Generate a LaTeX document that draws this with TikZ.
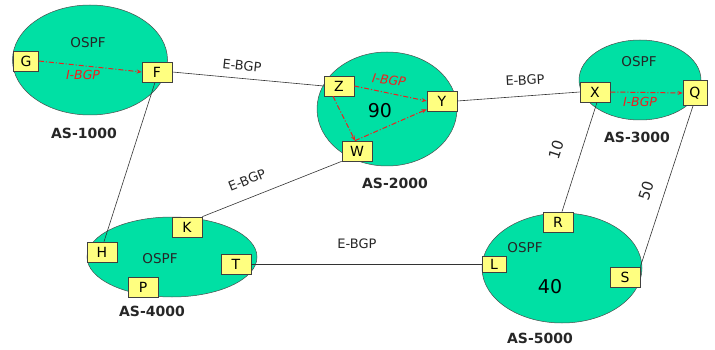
\documentclass[tikz,border=0pt]{standalone}
\usepackage{fontspec}
\setmainfont{DejaVu Sans}
\usetikzlibrary{shapes.geometric,arrows.meta}
\definecolor{asgreen}{RGB}{0,224,164}
\definecolor{boxyellow}{RGB}{255,255,128}
\definecolor{ibgpred}{RGB}{240,30,30}
\tikzset{
  asarea/.style={ellipse,draw=black!70,fill=asgreen,line width=0.5pt,inner sep=0pt},
  router/.style={draw=black!75,fill=boxyellow,line width=0.7pt,minimum width=30pt,minimum height=20pt,inner sep=0pt,font=\fontsize{14}{14}\selectfont},
  link/.style={draw=black!80,line width=0.6pt},
  ibgp/.style={draw=ibgpred,line width=1pt,dash pattern=on 5pt off 2pt on 1pt off 2pt},
  tip/.style={-{Stealth[length=5pt,width=4pt]}},
  ospf/.style={font=\fontsize{13.5}{13.5}\selectfont,text=black!85},
  aslabel/.style={font=\bfseries\fontsize{14}{14}\selectfont,text=black!85},
  ebgp/.style={font=\fontsize{13}{13}\selectfont,text=black!85},
  ibgplabel/.style={font=\itshape\fontsize{12.5}{12.5}\selectfont,text=ibgpred},
  metric/.style={font=\fontsize{19}{19}\selectfont},
  cost/.style={font=\fontsize{15}{15}\selectfont,text=black!85}
}
\begin{document}
\begin{tikzpicture}[x=1pt,y=-1pt]
\useasboundingbox (0,0) rectangle (715,350);
% AS areas
\node[asarea,minimum width=155pt,minimum height=110pt] (as1) at (90,60) {};
\node[asarea,minimum width=140pt,minimum height=114pt] (as2) at (387,109) {};
\node[asarea,minimum width=122pt,minimum height=80pt] (as3) at (640,80) {};
\node[asarea,minimum width=170pt,minimum height=80pt] (as4) at (172,257) {};
\node[asarea,minimum width=160pt,minimum height=110pt] (as5) at (562,268) {};
% area texts
\node[ospf] (o1) at (88,43) {OSPF};
\node[ospf] (o3) at (639,62) {OSPF};
\node[ospf] (o4) at (160,259) {OSPF};
\node[ospf] (o5) at (525,248) {OSPF};
\node[metric] (m2) at (380,111) {90};
\node[metric] (m5) at (550,287) {40};
\node[aslabel] (l1) at (84,133) {AS-1000};
\node[aslabel] (l2) at (395,183) {AS-2000};
\node[aslabel] (l3) at (637,137) {AS-3000};
\node[aslabel] (l4) at (152,311) {AS-4000};
\node[aslabel] (l5) at (540,338) {AS-5000};
% routers
\node[router,minimum width=25pt] (G) at (26,61) {G};
\node[router] (F) at (157,72) {F};
\node[router] (Z) at (339,86) {Z};
\node[router] (Y) at (442,101) {Y};
\node[router] (W) at (357,151) {W};
\node[router] (X) at (595,92) {X};
\node[router,minimum width=24pt,minimum height=25pt] (Q) at (695,93) {Q};
\node[router] (K) at (187,227) {K};
\node[router] (H) at (102,252) {H};
\node[router] (T) at (236,264) {T};
\node[router] (P) at (143,287) {P};
\node[router] (R) at (558,222) {R};
\node[router,minimum width=24pt,minimum height=16pt] (L) at (494,264) {L};
\node[router] (S) at (625,277) {S};
% E-BGP and other links
\draw[link] (F.east) -- (Z.west);
\draw[link] ([xshift=-2pt]F.south) -- ([xshift=2pt]H.north);
\draw[link] (Y.east) -- (X.west);
\draw[link] (W.south west) -- (K.north east);
\draw[link] (T.east) -- (L.west);
\draw[link] ([xshift=2pt]X.south) -- ([xshift=4pt]R.north);
\draw[link] ([xshift=-2pt]Q.south) -- (S.north east);
% I-BGP sessions
\draw[ibgp,tip] (G.east) -- (F.west);
\draw[ibgp,tip] (X.east) -- (Q.west);
\draw[ibgp,tip] (Z.east) -- (Y.west);
\draw[ibgp,tip] ([xshift=-6pt]Z.south) -- ([xshift=-2pt]W.north);
\draw[ibgp,tip] ([xshift=-2pt]W.north) -- ([yshift=2pt]Y.south west);
% labels
\node[ebgp,rotate=-6] (e1) at (242,66) {E-BGP};
\node[ebgp,rotate=3] (e2) at (525,80) {E-BGP};
\node[ebgp,rotate=22] (e3) at (247,180) {E-BGP};
\node[ebgp] (e4) at (357,244) {E-BGP};
\node[ibgplabel] (i1) at (83,75) {I-BGP};
\node[ibgplabel,rotate=-8] (i2) at (389,80) {I-BGP};
\node[ibgplabel] (i3) at (640,102) {I-BGP};
\node[cost,rotate=72] (c1) at (556,150) {10};
\node[cost,rotate=72] (c2) at (646,191) {50};
\end{tikzpicture}
\end{document}
